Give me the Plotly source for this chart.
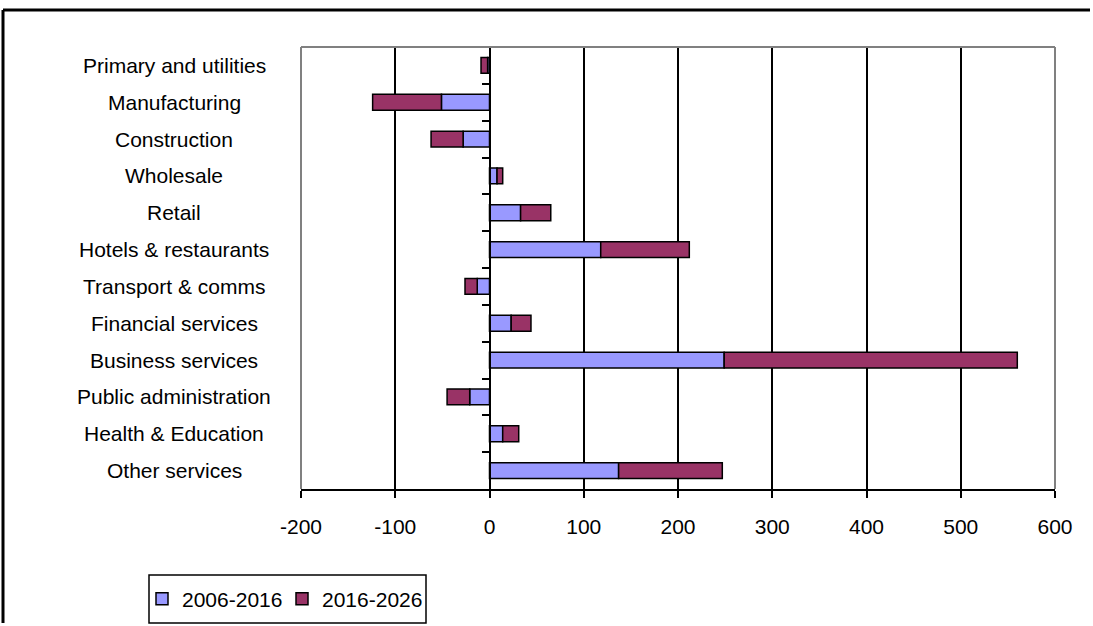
import plotly.graph_objects as go

categories = ["Primary and utilities", "Manufacturing", "Construction", "Wholesale",
              "Retail", "Hotels & restaurants", "Transport & comms", "Financial services",
              "Business services", "Public administration", "Health & Education", "Other services"]
series_2006_2016 = [-2, -51, -28, 8, 33, 118, -13, 23, 249, -21, 14, 137]
series_2016_2026 = [-7, -73, -34, 6, 32, 94, -13, 21, 311, -24, 17, 110]
x_ticks = [-200, -100, 0, 100, 200, 300, 400, 500, 600]

W, H = 1093, 626
L, R, T, B = 301, 1055, 47, 489
pw, ph = R - L, B - T

def px(x):
    return (x - L) / pw

def py(y):
    return (B - y) / ph

FONT = "Liberation Sans, Arial, sans-serif"
FS = 21

fig = go.Figure()
fig.add_trace(go.Bar(y=categories, x=series_2006_2016, name="2006-2016", orientation="h",
                     marker=dict(color="#9999FF", line=dict(color="black", width=1.5))))
fig.add_trace(go.Bar(y=categories, x=series_2016_2026, name="2016-2026", orientation="h",
                     marker=dict(color="#993366", line=dict(color="black", width=1.5))))

xmin, xmax = x_ticks[0], x_ticks[-1]
zero_pos = (0 - xmin) / (xmax - xmin)

fig.update_layout(
    width=W, height=H,
    margin=dict(l=L, r=W - R, t=T, b=H - B, pad=0, autoexpand=False),
    paper_bgcolor="white", plot_bgcolor="white",
    barmode="relative", bargap=0.57,
    font=dict(family=FONT, size=FS, color="black"),
    showlegend=True,
    legend=dict(orientation="h", x=px(142), y=py(599), xanchor="left", yanchor="middle",
                borderwidth=0, bgcolor="rgba(0,0,0,0)",
                font=dict(family=FONT, size=FS, color="black"),
                traceorder="normal", itemwidth=30, tracegroupgap=0,
                entrywidth=95, entrywidthmode="pixels"),
    xaxis=dict(range=[xmin, xmax], tickvals=x_ticks, ticktext=[str(v) for v in x_ticks],
               automargin=False,
               showgrid=True, gridcolor="black", gridwidth=2, zeroline=False,
               showline=True, linecolor="black", linewidth=2,
               ticks="outside", ticklen=7, tickwidth=2, tickcolor="black",
               ticklabelstandoff=11,
               tickfont=dict(family=FONT, size=FS, color="black")),
    yaxis=dict(type="category", categoryorder="array", categoryarray=categories,
               autorange="reversed", anchor="free", position=zero_pos, automargin=False,
               showline=True, linecolor="black", linewidth=2,
               ticks="outside", tickson="boundaries", ticklen=7, tickwidth=2, tickcolor="black",
               showticklabels=False, showgrid=False, zeroline=False),
)

# grey plot border (top, left, right)
for x0, y0, x1, y1 in [(0, 1, 1, 1), (0, 0, 0, 1), (1, 0, 1, 1)]:
    fig.add_shape(type="line", xref="paper", yref="paper", x0=x0, y0=y0, x1=x1, y1=y1,
                  line=dict(color="#808080", width=2), layer="above")

# legend frame
fig.add_shape(type="rect", xref="paper", yref="paper", x0=px(149), y0=py(575), x1=px(426), y1=py(623),
              line=dict(color="black", width=1.5), fillcolor="white", layer="below")

# outer frame
fig.add_shape(type="line", xref="paper", yref="paper", x0=px(3), y0=py(10), x1=px(W - 3), y1=py(10),
              line=dict(color="black", width=3))
fig.add_shape(type="line", xref="paper", yref="paper", x0=px(3), y0=py(10), x1=px(3), y1=py(H - 3),
              line=dict(color="black", width=3))

# category labels
for c in categories:
    fig.add_annotation(text=c, xref="paper", yref="y", x=px(174), y=c, xanchor="center",
                       yanchor="middle", showarrow=False,
                       font=dict(family=FONT, size=FS, color="black"))

fig.write_html("out.html", config={"displayModeBar": False})
